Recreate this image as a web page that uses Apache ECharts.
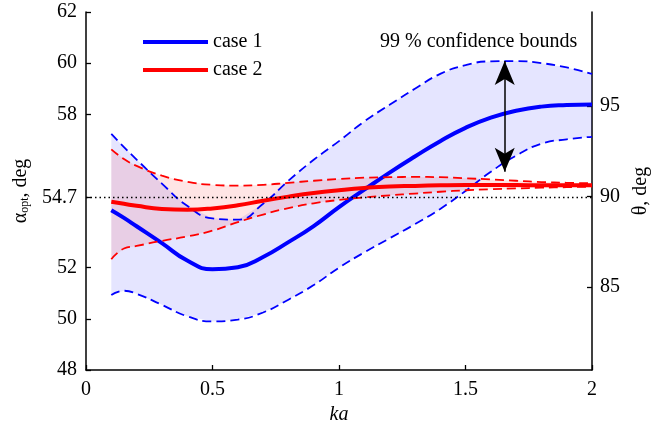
<!DOCTYPE html>
<html>
<head>
<meta charset="utf-8">
<script src="https://cdn.jsdelivr.net/npm/echarts@6/dist/echarts.min.js"></script>
<style>
  html, body { margin: 0; padding: 0; background: #fff; }
  #chart { width: 652px; height: 428px; }
</style>
</head>
<body>
<div id="chart"></div>
<script>
// ka grid
var ka = [0.1, 0.15, 0.2, 0.3, 0.4, 0.5, 0.6, 0.7, 0.8, 0.9, 1.0,
          1.1, 1.2, 1.3, 1.4, 1.5, 1.6, 1.7, 1.8, 1.9, 2.0];

// case 1 (blue): fit + 99% bounds
var case1      = [54.25, 53.95, 53.62, 52.96, 52.28, 51.94, 52.02, 52.42, 53.00, 53.63, 54.37,
                  55.05, 55.72, 56.35, 56.95, 57.47, 57.87, 58.14, 58.30, 58.36, 58.38];
var case1Upper = [57.23, 56.72, 56.23, 55.29, 54.42, 53.93, 53.88, 54.50, 55.40, 56.22, 56.95,
                  57.72, 58.37, 59.00, 59.58, 59.92, 60.07, 60.08, 60.00, 59.83, 59.58];
var case1Lower = [50.93, 51.10, 50.98, 50.55, 50.10, 49.90, 49.97, 50.25, 50.75, 51.32, 52.00,
                  52.60, 53.15, 53.70, 54.30, 55.00, 55.75, 56.38, 56.85, 57.02, 57.12];

// case 2 (red): fit + 99% bounds
var case2      = [54.58, 54.50, 54.42, 54.30, 54.27, 54.32, 54.44, 54.62, 54.78, 54.92, 55.03,
                  55.12, 55.18, 55.20, 55.22, 55.23, 55.23, 55.23, 55.22, 55.22, 55.22];
var case2Upper = [56.63, 56.25, 55.98, 55.60, 55.36, 55.24, 55.21, 55.24, 55.32, 55.40, 55.47,
                  55.52, 55.54, 55.55, 55.54, 55.50, 55.45, 55.40, 55.35, 55.32, 55.30];
var case2Lower = [52.33, 52.75, 52.85, 53.05, 53.22, 53.45, 53.78, 54.08, 54.33, 54.52, 54.65,
                  54.75, 54.83, 54.90, 54.97, 55.03, 55.07, 55.10, 55.13, 55.15, 55.17];

// ticks
var kaTicks = [0, 0.5, 1, 1.5, 2];
var alphaTicks = [48, 50, 52, 54.74, 58, 60, 62];
var thetaTicks = [85, 90, 95];
var magicAlpha = 54.74;

// arrow of the confidence-bound note (ka, alpha at both tips)
var arrowKa = 1.655;
var arrowAlpha = [60.08, 55.75];

var FONT = '"Times New Roman", Tinos, "Liberation Serif", "DejaVu Serif", serif';

function pairs(ys) {
  return ka.map(function (x, i) { return [x, ys[i]]; });
}

function dashed(name, ys, color) {
  return {
    name: name, type: 'line', data: pairs(ys), smooth: true, symbol: 'none', silent: true,
    lineStyle: { color: color, width: 1.8, type: [9, 5] }
  };
}

// shaded confidence band, drawn as one polygon through the axis scales
function band(lo, up, fill) {
  return {
    type: 'custom', silent: true, data: [[ka[0], lo[0]]],
    renderItem: function (params, api) {
      var pts = [];
      var i;
      for (i = 0; i < ka.length; i++) pts.push(api.coord([ka[i], up[i]]));
      for (i = ka.length - 1; i >= 0; i--) pts.push(api.coord([ka[i], lo[i]]));
      return { type: 'polygon', shape: { points: pts }, style: { fill: fill, stroke: null } };
    }
  };
}

var chart = echarts.init(document.getElementById('chart'), null, { renderer: 'canvas' });

var series = [
  {
    name: 'case 1', type: 'line', data: pairs(case1), smooth: true, symbol: 'none',
    lineStyle: { color: '#0000ff', width: 4 }, itemStyle: { color: '#0000ff' },
    markLine: {
      silent: true, symbol: ['none', 'none'], label: { show: false },
      lineStyle: { color: '#000', width: 1.3, type: [1.5, 3] },
      data: [{ yAxis: magicAlpha }]
    }
  },
  dashed('c1u', case1Upper, '#0000ff'),
  dashed('c1l', case1Lower, '#0000ff'),
  {
    name: 'case 2', type: 'line', data: pairs(case2), smooth: true, symbol: 'none',
    lineStyle: { color: '#ff0000', width: 4 }, itemStyle: { color: '#ff0000' },
    markLine: {
      silent: true, symbol: ['arrow', 'arrow'], symbolSize: [15, 24], label: { show: false },
      lineStyle: { color: '#000', width: 1.5, type: 'solid' },
      itemStyle: { color: '#000' },
      data: [[{ coord: [arrowKa, arrowAlpha[0]] }, { coord: [arrowKa, arrowAlpha[1]] }]]
    }
  },
  dashed('c2u', case2Upper, '#ff0000'),
  dashed('c2l', case2Lower, '#ff0000'),
  band(case1Lower, case1Upper, 'rgba(0,0,255,0.1)'),
  band(case2Lower, case2Upper, 'rgba(255,0,0,0.1)')
];

var axisLine = { show: true, onZero: false, lineStyle: { color: '#000', width: 1.5 } };
var tick = { show: true, inside: true, length: 5, lineStyle: { color: '#000', width: 1.3 } };
var label = { color: '#000', fontFamily: FONT, fontSize: 20 };

chart.setOption({
  animation: false,
  grid: { left: 86, right: 60, top: 12, bottom: 58, outerBoundsMode: 'none' },
  legend: {
    data: ['case 1', 'case 2'], orient: 'vertical', left: 143, top: 32, padding: 0,
    icon: 'rect', itemWidth: 65, itemHeight: 4, itemGap: 8,
    textStyle: { color: '#000', fontFamily: FONT, fontSize: 20 }
  },
  graphic: [{
    type: 'text', left: 380, top: 32, silent: true,
    style: { text: '99 % confidence bounds', fill: '#000', fontFamily: FONT, fontSize: 20 }
  }],
  xAxis: {
    type: 'value', min: 0, max: 2,
    axisLine: axisLine,
    axisTick: Object.assign({ customValues: kaTicks }, tick),
    axisLabel: Object.assign({ customValues: kaTicks, margin: 10 }, label),
    splitLine: { show: false },
    name: 'ka', nameLocation: 'middle', nameGap: 30,
    nameTextStyle: { color: '#000', fontFamily: FONT, fontSize: 20, fontStyle: 'italic' }
  },
  yAxis: [{
    type: 'value', min: 48, max: 62, position: 'left',
    axisLine: axisLine,
    axisTick: Object.assign({ customValues: alphaTicks }, tick),
    axisLabel: Object.assign({
      customValues: alphaTicks, margin: 9,
      formatter: function (v) { return v === magicAlpha ? '54.7' : String(v); }
    }, label),
    splitLine: { show: false },
    name: '{a|α}{s|opt}{a|, deg}', nameLocation: 'middle', nameGap: 52, nameRotate: 90,
    nameTextStyle: {
      color: '#000',
      rich: {
        a: { fontFamily: FONT, fontSize: 20, color: '#000', verticalAlign: 'bottom' },
        s: { fontFamily: FONT, fontSize: 12, color: '#000', verticalAlign: 'bottom' }
      }
    }
  }, {
    type: 'value', min: 80.4, max: 100.2, position: 'right',
    axisLine: axisLine,
    axisTick: Object.assign({ customValues: thetaTicks }, tick),
    axisLabel: Object.assign({ customValues: thetaTicks, margin: 8 }, label),
    splitLine: { show: false },
    name: 'θ, deg', nameLocation: 'middle', nameGap: 38, nameRotate: 90,
    nameTextStyle: { color: '#000', fontFamily: FONT, fontSize: 20 }
  }],
  series: series
});
</script>
</body>
</html>
